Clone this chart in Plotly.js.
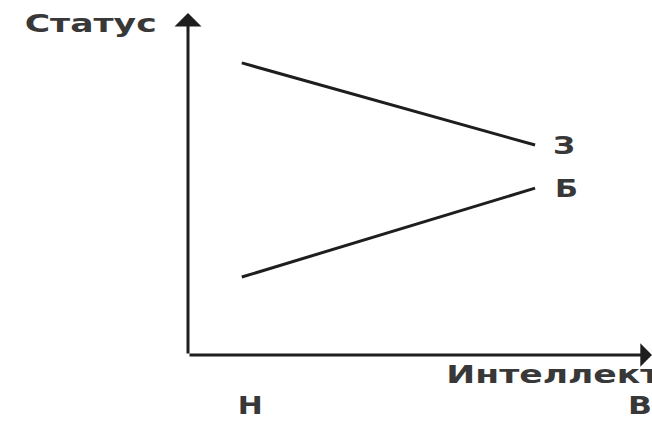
<!DOCTYPE html>
<html>
<head>
<meta charset="utf-8">
<script src="https://cdn.plot.ly/plotly-3.0.1.min.js"></script>
<style>
  html, body { margin: 0; padding: 0; background: #fff; }
  #chart { width: 652px; height: 425px; }
</style>
</head>
<body>
<div id="chart"></div>
<script>
// two groups, status vs intellect (from low to high)
var xLevels = [1.16, 7.48];
var statusZ = [8.54, 6.14];   // З
var statusB = [2.28, 4.88];   // Б
var seriesNames = ['З', 'Б'];
var tickPos = [1.34, 9.74];
var tickText = ['Н', 'В'];
var yTitle = 'Статус';
var xTitle = 'Интеллект';

var ink = '#1e1e1e';
var font = {family: 'DejaVu Sans, sans-serif', size: 25, weight: 'bold', color: '#383838'};

var traceZ = {
  x: xLevels, y: statusZ,
  type: 'scatter', mode: 'lines',
  name: seriesNames[0],
  line: {color: ink, width: 3}
};
var traceB = {
  x: xLevels, y: statusB,
  type: 'scatter', mode: 'lines',
  name: seriesNames[1],
  line: {color: ink, width: 3}
};

var data = [traceZ, traceB];

var layout = {
  width: 652,
  height: 425,
  margin: {l: 188, r: 0, t: 13, b: 70, pad: 0},
  paper_bgcolor: '#fff',
  plot_bgcolor: '#fff',
  showlegend: false,
  xaxis: {
    range: [0, 10], showgrid: false, zeroline: false, showline: false,
    tickvals: tickPos, ticktext: tickText, ticks: '',
    ticklabelstandoff: 33, tickfont: font, automargin: false, fixedrange: true
  },
  yaxis: {
    range: [0, 10], showgrid: false, zeroline: false, showline: false,
    showticklabels: false, ticks: '', fixedrange: true
  },
  annotations: [
    // axis arrows
    {x: 10, y: 0, ax: 0, ay: 0, xref: 'x', yref: 'y', axref: 'x', ayref: 'y',
     text: '', showarrow: true, arrowhead: 1, arrowsize: 1.3, arrowwidth: 3, arrowcolor: ink},
    {x: 0, y: 10, ax: 0, ay: 0, xref: 'x', yref: 'y', axref: 'x', ayref: 'y',
     text: '', showarrow: true, arrowhead: 1, arrowsize: 1.5, arrowwidth: 3, arrowcolor: ink},
    // series labels at line ends
    {x: xLevels[1], y: statusZ[1], xref: 'x', yref: 'y', text: seriesNames[0],
     showarrow: false, xanchor: 'left', xshift: 18, font: font},
    {x: xLevels[1], y: statusB[1], xref: 'x', yref: 'y', text: seriesNames[1],
     showarrow: false, xanchor: 'left', xshift: 20, font: font},
    // axis titles (paper coords, they sit outside the plot area)
    {x: -0.211, y: 0.968, xref: 'paper', yref: 'paper', text: yTitle,
     showarrow: false, xanchor: 'center', yanchor: 'middle', font: font},
    {x: 0.787, y: -0.056, xref: 'paper', yref: 'paper', text: xTitle,
     showarrow: false, xanchor: 'center', yanchor: 'middle', font: font}
  ]
};

var options = {displayModeBar: false, staticPlot: true};

// the source lettering is stretched sideways; stretch texts to the widths seen there
var textWidth = {};
textWidth[yTitle] = 132;
textWidth[xTitle] = 214;
textWidth['Н'] = 25;
textWidth['В'] = 24;
textWidth['З'] = 22;
textWidth['Б'] = 23;

Plotly.newPlot('chart', data, layout, options).then(function (gd) {
  gd.querySelectorAll('.annotation-text, .xtick text').forEach(function (t) {
    var w = textWidth[t.textContent];
    if (w) {
      t.setAttribute('textLength', w);
      t.setAttribute('lengthAdjust', 'spacingAndGlyphs');
    }
  });
});
</script>
</body>
</html>
